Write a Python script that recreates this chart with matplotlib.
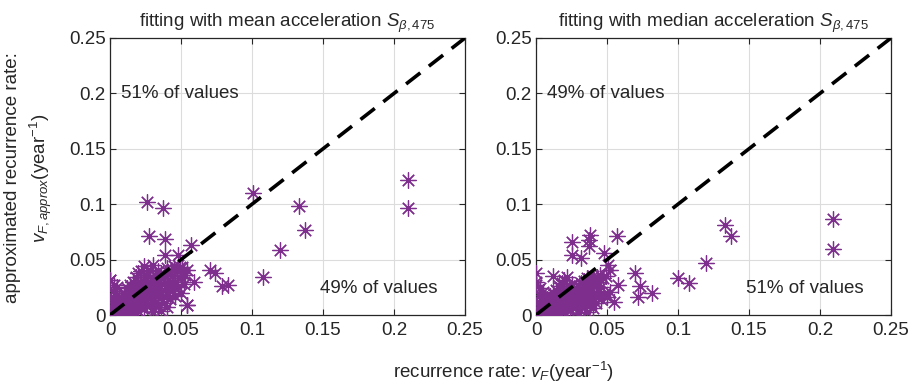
import matplotlib
matplotlib.use("Agg")
import matplotlib.pyplot as plt

plt.rcParams["font.family"] = ["Liberation Sans", "DejaVu Sans"]
plt.rcParams["mathtext.fontset"] = "custom"
plt.rcParams["mathtext.it"] = "Liberation Sans:italic"
plt.rcParams["mathtext.rm"] = "Liberation Sans"

# ---- data: true recurrence rate vs approximated recurrence rate (1/year) ----
mean_x = [0.001, 0.002, 0.003, 0.004, 0.005, 0.006, 0.007, 0.008, 0.009, 0.010, 0.011, 0.012, 0.013, 0.014,
          0.015, 0.016, 0.017, 0.018, 0.019, 0.020, 0.021, 0.022, 0.023, 0.024, 0.025, 0.026, 0.027, 0.028,
          0.029, 0.030, 0.031, 0.032, 0.033, 0.034, 0.035, 0.036, 0.038, 0.040, 0.042, 0.044,
          0.005, 0.008, 0.010, 0.012, 0.014, 0.016, 0.018, 0.020, 0.022, 0.024, 0.026, 0.028, 0.030, 0.032,
          0.034, 0.036, 0.038, 0.040, 0.042, 0.044, 0.046, 0.048, 0.050, 0.052, 0.054, 0.036, 0.040, 0.030,
          0.001, 0.002, 0.003, 0.001, 0.004, 0.002, 0.005, 0.003, 0.000, 0.006, 0.008, 0.010, 0.012, 0.014,
          0.016, 0.018, 0.020, 0.022, 0.024, 0.026, 0.028, 0.030,
          0.007, 0.009, 0.011, 0.013, 0.015, 0.017, 0.019, 0.021, 0.023, 0.025, 0.027, 0.029, 0.031, 0.033,
          0.035, 0.037, 0.039, 0.041, 0.043, 0.045, 0.047, 0.049, 0.051, 0.053, 0.050, 0.046, 0.044, 0.040,
          0.036, 0.032, 0.028, 0.024, 0.020, 0.016, 0.012, 0.008, 0.004, 0.006, 0.010, 0.014,
          0.101, 0.026, 0.037, 0.0275, 0.039, 0.057, 0.039, 0.048, 0.133, 0.137, 0.120, 0.108, 0.0705, 0.074,
          0.079, 0.083, 0.054, 0.059, 0.054, 0.051, 0.000, 0.210, 0.210]
mean_y = [0.001, 0.003, 0.002, 0.005, 0.003, 0.006, 0.004, 0.008, 0.005, 0.009, 0.006, 0.011, 0.007, 0.013,
          0.009, 0.015, 0.010, 0.017, 0.012, 0.019, 0.013, 0.021, 0.015, 0.024, 0.016, 0.027, 0.018, 0.030,
          0.020, 0.033, 0.022, 0.036, 0.024, 0.040, 0.026, 0.038, 0.028, 0.042, 0.030, 0.035,
          0.001, 0.002, 0.003, 0.002, 0.004, 0.003, 0.005, 0.004, 0.007, 0.006, 0.008, 0.010, 0.006, 0.012,
          0.009, 0.015, 0.011, 0.018, 0.014, 0.022, 0.017, 0.025, 0.020, 0.028, 0.009, 0.004, 0.007, 0.003,
          0.005, 0.009, 0.012, 0.015, 0.018, 0.022, 0.025, 0.027, 0.032, 0.013, 0.016, 0.020, 0.024, 0.027,
          0.030, 0.034, 0.038, 0.040, 0.044, 0.036, 0.041, 0.045,
          0.010, 0.012, 0.014, 0.017, 0.019, 0.022, 0.025, 0.028, 0.031, 0.034, 0.024, 0.027, 0.030, 0.032,
          0.035, 0.033, 0.036, 0.039, 0.041, 0.044, 0.040, 0.043, 0.038, 0.036, 0.033, 0.030, 0.027, 0.024,
          0.021, 0.018, 0.015, 0.012, 0.010, 0.008, 0.005, 0.004, 0.002, 0.001, 0.001, 0.001,
          0.110, 0.102, 0.097, 0.071, 0.069, 0.063, 0.054, 0.054, 0.098, 0.077, 0.059, 0.034, 0.041, 0.038,
          0.026, 0.027, 0.009, 0.030, 0.041, 0.043, 0.032, 0.122, 0.097]

median_x = [0.001, 0.002, 0.003, 0.004, 0.005, 0.006, 0.007, 0.008, 0.009, 0.010, 0.011, 0.012, 0.013, 0.014,
            0.015, 0.016, 0.017, 0.018, 0.019, 0.020, 0.021, 0.022, 0.023, 0.024, 0.025, 0.026, 0.027, 0.028,
            0.029, 0.030, 0.031, 0.032, 0.033, 0.034, 0.035, 0.036, 0.038, 0.040, 0.042, 0.044,
            0.005, 0.008, 0.010, 0.012, 0.014, 0.016, 0.018, 0.020, 0.022, 0.024, 0.026, 0.028, 0.030, 0.032,
            0.034, 0.036, 0.038, 0.040, 0.042, 0.044, 0.046, 0.048, 0.050, 0.052, 0.055, 0.036, 0.040, 0.030,
            0.001, 0.002, 0.003, 0.001, 0.004, 0.002, 0.005, 0.003, 0.000, 0.006, 0.008, 0.010, 0.012, 0.014,
            0.016, 0.018, 0.020, 0.022,
            0.007, 0.009, 0.011, 0.013, 0.015, 0.017, 0.019, 0.021, 0.023, 0.025, 0.027, 0.029, 0.031, 0.033,
            0.035, 0.037, 0.039, 0.041, 0.043, 0.045, 0.047, 0.049, 0.046, 0.044, 0.040,
            0.036, 0.032, 0.028, 0.024, 0.020, 0.016, 0.012, 0.008, 0.004, 0.006, 0.010, 0.014,
            0.038, 0.037, 0.057, 0.025, 0.037, 0.025, 0.032, 0.048, 0.051, 0.052, 0.070, 0.073, 0.082, 0.072,
            0.100, 0.108, 0.120, 0.000, 0.000, 0.058, 0.012, 0.133, 0.137, 0.209, 0.209]
median_y = [0.001, 0.002, 0.002, 0.004, 0.003, 0.005, 0.003, 0.006, 0.004, 0.008, 0.005, 0.009, 0.006, 0.011,
            0.007, 0.012, 0.008, 0.014, 0.010, 0.016, 0.011, 0.018, 0.012, 0.020, 0.013, 0.022, 0.015, 0.024,
            0.016, 0.026, 0.018, 0.029, 0.020, 0.031, 0.022, 0.033, 0.024, 0.035, 0.026, 0.030,
            0.001, 0.001, 0.002, 0.002, 0.003, 0.002, 0.004, 0.003, 0.005, 0.005, 0.006, 0.008, 0.005, 0.010,
            0.007, 0.012, 0.009, 0.014, 0.011, 0.017, 0.014, 0.019, 0.016, 0.021, 0.012, 0.003, 0.006, 0.002,
            0.004, 0.007, 0.010, 0.012, 0.015, 0.018, 0.021, 0.024, 0.030, 0.011, 0.014, 0.017, 0.020, 0.023,
            0.026, 0.029, 0.032, 0.034,
            0.008, 0.010, 0.012, 0.014, 0.016, 0.018, 0.021, 0.023, 0.026, 0.028, 0.020, 0.022, 0.024, 0.026,
            0.028, 0.027, 0.030, 0.032, 0.034, 0.036, 0.033, 0.035, 0.025, 0.022, 0.019,
            0.017, 0.014, 0.012, 0.010, 0.008, 0.006, 0.004, 0.003, 0.002, 0.001, 0.001, 0.001,
            0.072, 0.068, 0.071, 0.066, 0.062, 0.054, 0.051, 0.056, 0.045, 0.041, 0.038, 0.026, 0.020, 0.016,
            0.033, 0.029, 0.047, 0.038, 0.027, 0.027, 0.035, 0.081, 0.071, 0.087, 0.060]

titles = [r"fitting with mean acceleration $S_{\beta,475}$",
          r"fitting with median acceleration $S_{\beta,475}$"]
upper_labels = ["51% of values", "49% of values"]
lower_labels = ["49% of values", "51% of values"]
ticks = [0, 0.05, 0.1, 0.15, 0.2, 0.25]
tick_labels = ["0", "0.05", "0.1", "0.15", "0.2", "0.25"]

purple = (0.494, 0.184, 0.556)
ink = "#262626"
fs = 13.5
W, H = 916, 387
fig = plt.figure(figsize=(W / 100, H / 100), dpi=100)

boxes = [(110, 38, 465, 315), (536, 38, 891, 315)]
series = [(mean_x, mean_y), (median_x, median_y)]

for i, ((x0, y0, x1, y1), (xs, ys)) in enumerate(zip(boxes, series)):
    ax = fig.add_axes([x0 / W, 1 - y1 / H, (x1 - x0) / W, (y1 - y0) / H])
    ax.plot(xs, ys, linestyle="none", marker=(8, 2, 0), markersize=11.5,
            markeredgewidth=0.9, color=purple, zorder=3)
    ax.plot([0, 0.25], [0, 0.25], color="black", linestyle=(0, (5, 3)),
            linewidth=2.6, zorder=4)
    ax.set_xlim(0, 0.25)
    ax.set_ylim(0, 0.25)
    ax.set_xticks(ticks)
    ax.set_yticks(ticks)
    ax.set_xticklabels(tick_labels, fontsize=fs)
    ax.set_yticklabels(tick_labels, fontsize=fs)
    ax.grid(True, color="#dcdcdc", linewidth=0.8, zorder=0)
    ax.set_axisbelow(True)
    ax.tick_params(direction="in", length=4, width=0.8, color=ink,
                   top=True, right=True, labelcolor=ink)
    ax.tick_params(axis="x", pad=5)
    ax.tick_params(axis="y", pad=3)
    for s in ax.spines.values():
        s.set_color(ink)
        s.set_linewidth(0.9)
    ax.set_title(titles[i], fontsize=fs, color=ink, pad=8)
    ax.text(0.008, 0.2, upper_labels[i], fontsize=fs, color=ink,
            ha="left", va="center", zorder=5)
    ax.text(0.148, 0.024, lower_labels[i], fontsize=fs, color=ink,
            ha="left", va="center", zorder=5)

fig.text(503 / W, 1 - 372 / H, r"recurrence rate: $v_F$(year$^{-1}$)",
         ha="center", va="center", fontsize=fs, color=ink)
fig.text(13 / W, 1 - 178 / H, "approximated recurrence rate:", rotation=90,
         ha="center", va="center", fontsize=fs, color=ink)
fig.text(41 / W, 1 - 178 / H, r"$v_{F,approx}$(year$^{-1}$)", rotation=90,
         ha="center", va="center", fontsize=fs, color=ink)

fig.savefig("out.png", dpi=100)
